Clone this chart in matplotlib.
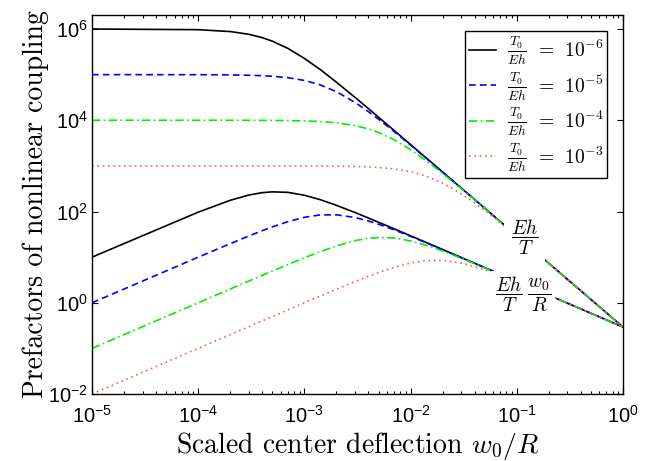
import matplotlib
matplotlib.use('Agg')
import matplotlib.pyplot as plt
import numpy as np
from matplotlib.font_manager import FontProperties
from matplotlib.ticker import FixedLocator, LogLocator, NullFormatter, FuncFormatter

# 字体设置：刻度用无衬线，标签/图例用 Computer Modern
matplotlib.rcParams['mathtext.fontset'] = 'custom'
matplotlib.rcParams['mathtext.rm'] = 'Liberation Sans'
matplotlib.rcParams['mathtext.it'] = 'Liberation Sans:italic'
matplotlib.rcParams['font.family'] = 'Liberation Sans'
matplotlib.rcParams['axes.unicode_minus'] = False

# 数据
w0_R = [1e-5, 1e-4, 2e-4, 3e-4, 4e-4, 5e-4, 7e-4, 1e-3, 1.4e-3, 2e-3, 3e-3, 4e-3,
        5e-3, 7e-3, 1e-2, 1.4e-2, 2e-2, 3e-2, 4e-2, 5e-2, 7e-2, 0.1, 0.2, 0.5, 1.0]

tension_labels = [r'$\frac{T_0}{Eh}\;\,=\;\,10^{-6}$', r'$\frac{T_0}{Eh}\;\,=\;\,10^{-5}$',
                  r'$\frac{T_0}{Eh}\;\,=\;\,10^{-4}$', r'$\frac{T_0}{Eh}\;\,=\;\,10^{-3}$']

# 上组曲线 Eh/T
upper_m6 = [1.0e6, 9.67e5, 8.80e5, 7.66e5, 6.48e5, 5.41e5, 3.75e5, 2.27e5, 1.31e5, 6.85e4,
            3.17e4, 1.81e4, 1.16e4, 5970, 2930, 1500, 735, 327, 184, 118, 60.0, 29.4, 7.35, 1.18, 0.294]
upper_m5 = [1.0e5, 9.97e4, 9.87e4, 9.70e4, 9.48e4, 9.22e4, 8.57e4, 7.46e4, 6.00e4, 4.24e4,
            2.46e4, 1.55e4, 1.05e4, 5660, 2860, 1480, 730, 326, 184, 118, 60.0, 29.4, 7.35, 1.18, 0.294]
upper_m4 = [1.0e4, 1.0e4, 9990, 9970, 9950, 9920, 9840, 9670, 9380, 8800,
            7660, 6480, 5410, 3750, 2270, 1310, 685, 317, 181, 116, 59.7, 29.3, 7.35, 1.18, 0.294]
upper_m3 = [1000, 1000, 1000, 1000, 1000, 999, 998, 997, 993, 987,
            970, 948, 922, 857, 746, 600, 424, 246, 155, 105, 56.6, 28.6, 7.30, 1.18, 0.294]

# 下组曲线 (Eh/T)(w0/R)
lower_m6 = [10.0, 96.7, 176, 230, 259, 270, 263, 227, 183, 137,
            94.9, 72.2, 58.1, 41.8, 29.3, 21.0, 14.7, 9.80, 7.35, 5.88, 4.20, 2.94, 1.47, 0.588, 0.294]
lower_m5 = [1.0, 9.97, 19.7, 29.1, 37.9, 46.1, 60.0, 74.6, 84.0, 84.8,
            73.9, 62.1, 52.6, 39.6, 28.6, 20.7, 14.6, 9.77, 7.34, 5.88, 4.20, 2.94, 1.47, 0.588, 0.294]
lower_m4 = [0.1, 1.0, 2.0, 2.99, 3.98, 4.96, 6.89, 9.67, 13.1, 17.6,
            23.0, 25.9, 27.0, 26.3, 22.7, 18.3, 13.7, 9.49, 7.22, 5.81, 4.18, 2.93, 1.47, 0.588, 0.294]
lower_m3 = [0.01, 0.1, 0.2, 0.3, 0.4, 0.5, 0.699, 0.997, 1.39, 1.97,
            2.91, 3.79, 4.61, 6.0, 7.46, 8.40, 8.48, 7.39, 6.21, 5.26, 3.96, 2.86, 1.46, 0.588, 0.294]

uppers = [upper_m6, upper_m5, upper_m4, upper_m3]
lowers = [lower_m6, lower_m5, lower_m4, lower_m3]
colors = ['black', 'blue', '#00ee00', '#ff5a5a']
styles = ['-', (0, (4, 2.5)), (0, (5, 2, 1, 2)), (0, (1, 2.2))]

fig = plt.figure(figsize=(6.62, 4.61), dpi=100)
ax = fig.add_axes([0.139, 0.1453, 0.802, 0.8222])

for up, lo, c, ls, lab in zip(uppers, lowers, colors, styles, tension_labels):
    ax.plot(w0_R, up, color=c, linestyle=ls, lw=1.2, label=lab)
    ax.plot(w0_R, lo, color=c, linestyle=ls, lw=1.2)

ax.set_xscale('log')
ax.set_yscale('log')
ax.set_xlim(1e-5, 1)
ax.set_ylim(1e-2, 2.03e6)

ax.xaxis.set_major_locator(FixedLocator([1e-5, 1e-4, 1e-3, 1e-2, 1e-1, 1]))
ax.xaxis.set_minor_locator(LogLocator(base=10, subs=np.arange(2, 10), numticks=20))
ax.xaxis.set_minor_formatter(NullFormatter())
ax.yaxis.set_major_locator(FixedLocator([1e-2, 1, 1e2, 1e4, 1e6]))
ax.yaxis.set_minor_locator(FixedLocator([]))

sci = FuncFormatter(lambda v, p: r'$\mathregular{10^{%d}}$' % int(round(np.log10(v))))
ax.xaxis.set_major_formatter(sci)
ax.yaxis.set_major_formatter(sci)

ax.tick_params(which='both', direction='in', top=True, right=True, width=0.8)
ax.tick_params(which='major', length=4.5)
ax.tick_params(which='minor', length=2.5)
ax.tick_params(axis='x', pad=8, labelsize=14.5)
ax.tick_params(axis='y', pad=3, labelsize=14.5)
for sp in ax.spines.values():
    sp.set_linewidth(1.0)

ax.set_xlabel(r'Scaled center deflection $w_0/R$', fontsize=20, family='cmr10',
              math_fontfamily='cm', va='baseline')
ax.xaxis.set_label_coords(0.5, -0.1556)
ax.set_ylabel('Prefactors of nonlinear coupling', fontsize=20, family='cmr10',
              math_fontfamily='cm', labelpad=-1)

ax.text(0.118, 27, r'$\dfrac{Eh}{T}$', fontsize=14, math_fontfamily='cm',
        ha='center', va='center',
        bbox=dict(facecolor='white', edgecolor='none', pad=5))
ax.text(0.115, 1.55, r'$\dfrac{Eh}{T}\;\dfrac{w_0}{R}$', fontsize=14, math_fontfamily='cm',
        ha='center', va='center',
        bbox=dict(facecolor='white', edgecolor='none', pad=2.5))

leg_font = FontProperties(family='cmr10', size=14, math_fontfamily='cm')
leg = ax.legend(loc='upper right', prop=leg_font, fancybox=False, framealpha=1,
                edgecolor='black', handlelength=1.4, labelspacing=0.15,
                borderaxespad=0.8, handletextpad=0.55, borderpad=0.2)
leg.get_frame().set_linewidth(1.0)

fig.savefig('out.png', dpi=100)
